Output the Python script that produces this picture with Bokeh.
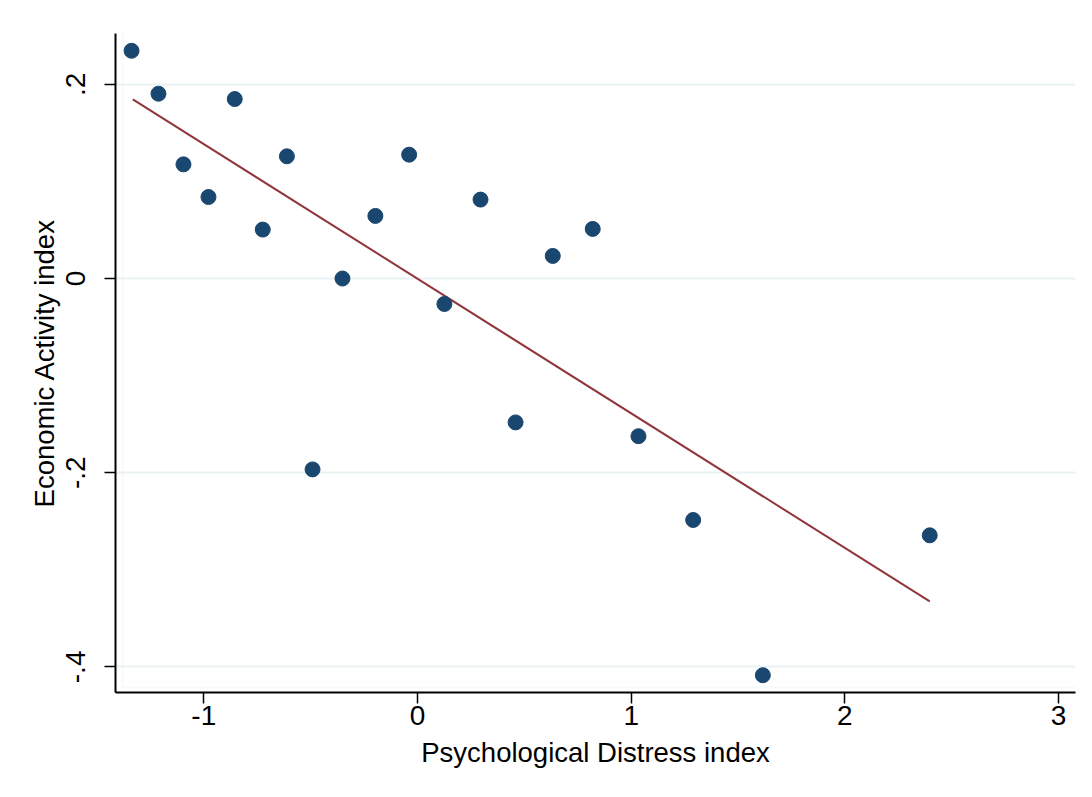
from bokeh.plotting import figure
from bokeh.models import Range1d, FixedTicker, BoxAnnotation
from bokeh.embed import file_html
from bokeh.resources import INLINE

# ---- data ----
distress = [-1.338, -1.212, -1.095, -0.978, -0.855, -0.724, -0.611, -0.491,
            -0.351, -0.197, -0.039, 0.126, 0.295, 0.459, 0.633, 0.820,
            1.034, 1.290, 1.616, 2.397]
activity = [0.2346, 0.1904, 0.1176, 0.0840, 0.1849, 0.0504, 0.1259, -0.1966,
            0.0000, 0.0645, 0.1276, -0.0262, 0.0813, -0.1482, 0.0233, 0.0511,
            -0.1624, -0.2487, -0.4086, -0.2645]
fit_x = [-1.332, 2.397]
fit_y = [0.1845, -0.3325]

x_ticks = [-1, 0, 1, 2, 3]
x_tick_labels = ["-1", "0", "1", "2", "3"]
y_ticks = [-0.4, -0.2, 0.0, 0.2]
y_tick_labels = ["-.4", "-.2", "0", ".2"]

x_title = "Psychological Distress index"
y_title = "Economic Activity index"

FONT = "Liberation Sans"

p = figure(width=1076, height=781, output_backend="svg", toolbar_location=None,
           x_range=Range1d(-1.413, 3.079), y_range=Range1d(-0.4264, 0.2524),
           min_border_left=115, min_border_top=33, min_border_right=1,
           min_border_bottom=89)
p.outline_line_color = None
p.background_fill_color = "white"
p.border_fill_color = "white"

# faint outer graph-region border (top and left edges)
p.add_layout(BoxAnnotation(left=7, right=5000, top=5, bottom=5000,
                           left_units="screen", right_units="screen",
                           top_units="screen", bottom_units="screen",
                           fill_alpha=0, line_color="#e6eef0", line_width=2))

p.xgrid.visible = False
p.ygrid.ticker = FixedTicker(ticks=y_ticks)
p.ygrid.grid_line_color = "#eaf2f3"
p.ygrid.grid_line_width = 2

p.line(fit_x, fit_y, line_color="#90353b", line_width=2)
p.scatter(distress, activity, size=15, fill_color="#1a476f", line_color="#1a476f")

for ax in (p.xaxis[0], p.yaxis[0]):
    ax.axis_line_color = "black"
    ax.axis_line_width = 2
    ax.major_tick_line_color = "black"
    ax.major_tick_line_width = 1.5
    ax.major_tick_out = 11
    ax.major_tick_in = 0
    ax.minor_tick_line_color = None
    ax.major_label_text_font = FONT
    ax.major_label_text_font_size = "28px"
    ax.major_label_text_color = "black"
    ax.axis_label_text_font = FONT
    ax.axis_label_text_font_size = "27.5px"
    ax.axis_label_text_font_style = "normal"
    ax.axis_label_text_color = "black"

p.xaxis[0].ticker = FixedTicker(ticks=x_ticks)
p.xaxis[0].major_label_overrides = dict(zip(x_ticks, x_tick_labels))
p.xaxis[0].axis_label = x_title
p.xaxis[0].major_label_standoff = 2
p.xaxis[0].axis_label_standoff = 9

p.yaxis[0].ticker = FixedTicker(ticks=y_ticks)
p.yaxis[0].major_label_overrides = dict(zip(y_ticks, y_tick_labels))
p.yaxis[0].major_label_orientation = "vertical"
p.yaxis[0].axis_label = y_title
p.yaxis[0].major_label_standoff = 19
p.yaxis[0].axis_label_standoff = 4

open("out.html", "w").write(file_html(p, INLINE))
